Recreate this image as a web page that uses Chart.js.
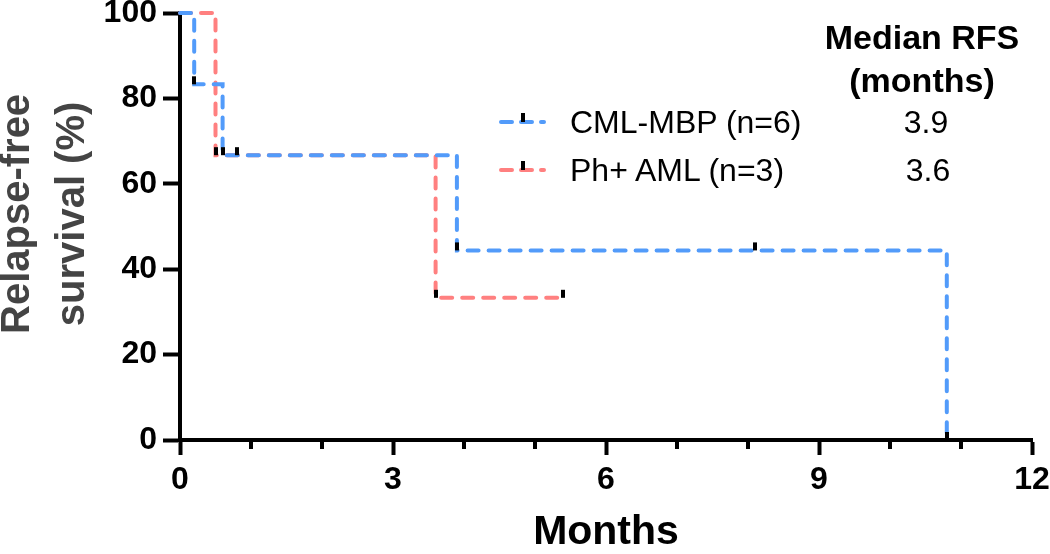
<!DOCTYPE html>
<html>
<head>
<meta charset="utf-8">
<script src="https://cdn.jsdelivr.net/npm/chart.js@4"></script>
<style>
  body { margin: 0; background: #fff; font-family: "Liberation Sans", Arial, sans-serif; }
  #wrap { position: relative; width: 1050px; height: 554px; }
  #chart { position: absolute; left: 0; top: 0; }
  .lbl { position: absolute; white-space: nowrap; line-height: 1; color: #000; }
  .head { font-weight: bold; font-size: 34px; transform: translate(-50%, -50%); }
  .leg { font-size: 32px; transform: translateY(-50%); }
  .med { font-size: 32px; transform: translate(-50%, -50%); }
  .sample { position: absolute; }
  #ytitle { position: absolute; left: 0; top: 0; font-weight: bold; font-size: 40px; color: #444;
            line-height: 55px; text-align: center; white-space: nowrap;
            transform-origin: 0 0; }
</style>
</head>
<body>
<div id="wrap">
  <canvas id="chart" width="1050" height="554"></canvas>
  <div id="ytitle">Relapse-free<br>survival (%)</div>
  <div class="lbl head" style="left:922px; top:37px;">Median RFS</div>
  <div class="lbl head" style="left:922px; top:80px;">(months)</div>
  <div class="lbl leg" style="left:570px; top:122px;">CML-MBP (n=6)</div>
  <div class="lbl leg" style="left:570px; top:170px;">Ph+ AML (n=3)</div>
  <div class="lbl med" style="left:926px; top:122px;">3.9</div>
  <div class="lbl med" style="left:928px; top:170px;">3.6</div>
  <svg class="sample" style="left:498px; top:108px;" width="50" height="20">
    <line x1="3" y1="14" x2="46" y2="14" stroke="#529BFA" stroke-width="4" stroke-linecap="round" stroke-dasharray="11,9"/>
    <rect x="23" y="5" width="4" height="9" fill="#000"/>
  </svg>
  <svg class="sample" style="left:498px; top:156px;" width="50" height="20">
    <line x1="3" y1="14" x2="46" y2="14" stroke="#FF8080" stroke-width="4" stroke-linecap="round" stroke-dasharray="11,9"/>
    <rect x="23" y="5" width="4" height="9" fill="#000"/>
  </svg>
</div>
<script>
// Kaplan-Meier steps (months, % relapse-free)
const cmlMonths = [0, 0.2, 0.6, 0.8, 3.9, 8.1, 10.8];
const cmlSurvival = [100, 83.3, 66.7, 66.7, 44.4, 44.4, 0];
const amlMonths = [0, 0.5, 3.6, 5.4];
const amlSurvival = [100, 66.7, 33.3, 33.3];

const xMajorTicks = [0, 3, 6, 9, 12];
const xMinorTicks = [1, 2, 4, 5, 7, 8, 10, 11];
const yTicks = [0, 20, 40, 60, 80, 100];

const blue = "#529BFA";
const red = "#FF8080";

const toPoints = (xs, ys) => xs.map((x, i) => ({ x: x, y: ys[i] }));

// little black ticks on each recorded point + minor ticks on the x axis
const marks = {
  id: "marks",
  afterDatasetsDraw(chart) {
    const ctx = chart.ctx;
    ctx.save();
    ctx.fillStyle = "#000";
    chart.data.datasets.forEach((ds, di) => {
      const meta = chart.getDatasetMeta(di);
      meta.data.forEach((pt, i) => {
        if (i === 0) return;
        ctx.fillRect(Math.round(pt.x) - 2, pt.y - 8, 4, 8);
      });
    });
    const xs = chart.scales.x;
    const bottom = chart.chartArea.bottom;
    xMinorTicks.forEach((v) => {
      const px = xs.getPixelForValue(v);
      ctx.fillRect(Math.round(px) - 2, bottom, 4, 9);
    });
    ctx.restore();
  },
};

const ctx = document.getElementById("chart").getContext("2d");
const chart = new Chart(ctx, {
  type: "line",
  data: {
    datasets: [
      {
        label: "CML-MBP (n=6)",
        data: toPoints(cmlMonths, cmlSurvival),
        borderColor: blue,
        borderWidth: 4,
        borderDash: [11, 10],
        borderCapStyle: "round",
        stepped: "before",
        pointRadius: 0,
        fill: false,
        clip: false,
      },
      {
        label: "Ph+ AML (n=3)",
        data: toPoints(amlMonths, amlSurvival),
        borderColor: red,
        borderWidth: 4,
        borderDash: [11, 10],
        borderCapStyle: "round",
        stepped: "before",
        pointRadius: 0,
        fill: false,
        clip: false,
      },
    ],
  },
  options: {
    responsive: false,
    animation: false,
    layout: { padding: { top: 13, right: 18, left: 0, bottom: 0 } },
    plugins: { legend: { display: false }, tooltip: { enabled: false } },
    scales: {
      x: {
        type: "linear",
        min: 0,
        max: 12,
        afterBuildTicks: (scale) => {
          scale.ticks = xMajorTicks.map((v) => ({ value: v }));
        },
        afterFit: (scale) => {
          scale.height = 114;
          scale.paddingLeft = 0;
          scale.paddingRight = 0;
        },
        border: { display: true, color: "#000", width: 4 },
        grid: { drawOnChartArea: false, color: "#000", tickLength: 15, tickWidth: 4 },
        ticks: {
          color: "#000",
          padding: 6,
          font: { family: "Liberation Sans", size: 32, weight: "bold" },
        },
        title: {
          display: true,
          text: "Months",
          color: "#000",
          font: { family: "Liberation Sans", size: 41, weight: "bold", lineHeight: 1.2 },
          padding: { top: 0, bottom: -3 },
        },
      },
      y: {
        type: "linear",
        min: 0,
        max: 100,
        afterBuildTicks: (scale) => {
          scale.ticks = yTicks.map((v) => ({ value: v }));
        },
        afterFit: (scale) => {
          scale.width = 180;
          scale.paddingTop = 0;
          scale.paddingBottom = 0;
        },
        border: { display: true, color: "#000", width: 4 },
        grid: { drawOnChartArea: false, color: "#000", tickLength: 17, tickWidth: 4 },
        ticks: {
          color: "#000",
          padding: 6,
          font: { family: "Liberation Sans", size: 32, weight: "bold" },
        },
      },
    },
  },
  plugins: [marks],
});

// rotated y title, centred on the text block seen in the figure
const yt = document.getElementById("ytitle");
const w = yt.offsetWidth;
yt.style.transform = "translate(-12px, " + (214 + w / 2) + "px) rotate(-90deg)";
</script>
</body>
</html>
